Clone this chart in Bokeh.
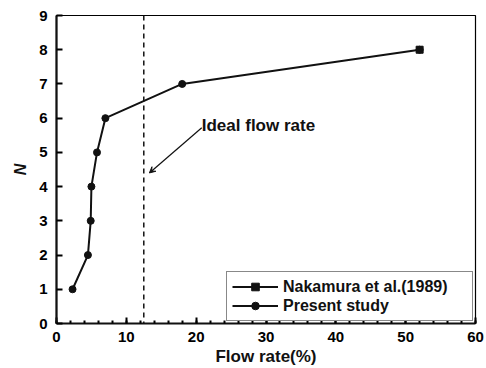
from bokeh.plotting import figure
from bokeh.models import Range1d, Span, Label, Arrow, VeeHead, FixedTicker, Legend, LegendItem
from bokeh.embed import file_html
from bokeh.resources import INLINE

# data
present_x = [2.3, 4.5, 4.9, 5.0, 5.8, 7.0, 18.0, 52.0]
present_y = [1, 2, 3, 4, 5, 6, 7, 8]
nakamura_x = [52.0]
nakamura_y = [8]
ideal_flow = 12.5
x_ticks = [0, 10, 20, 30, 40, 50, 60]
y_ticks = [0, 1, 2, 3, 4, 5, 6, 7, 8, 9]

FONT = "Liberation Sans"

p = figure(frame_width=419, frame_height=308, output_backend="svg", toolbar_location=None,
           x_range=Range1d(0, 60), y_range=Range1d(0, 9),
           min_border_left=56, min_border_right=10, min_border_top=15, min_border_bottom=42)
p.grid.visible = False
p.background_fill_color = "white"
p.border_fill_color = "white"
p.outline_line_color = "black"
p.outline_line_width = 1.2

p.axis.axis_line_width = 2.2
p.axis.axis_line_color = "#111111"
p.axis.major_tick_in = 6
p.axis.major_tick_out = 0
p.axis.major_tick_line_width = 2
p.axis.major_label_text_font = FONT
p.axis.major_label_text_font_style = "bold"
p.axis.major_label_text_font_size = "15px"
p.axis.major_label_text_color = "#000000"
p.axis.axis_label_text_font = FONT
p.axis.axis_label_text_color = "#111111"

p.xaxis.ticker = FixedTicker(ticks=x_ticks, minor_ticks=list(range(0, 61, 2)))
p.xaxis.minor_tick_in = 3
p.xaxis.minor_tick_out = 0
p.xaxis.minor_tick_line_width = 2
p.xaxis.major_label_standoff = 8
p.xaxis.axis_label = "Flow rate(%)"
p.xaxis.axis_label_text_font_style = "bold"
p.xaxis.axis_label_text_font_size = "17px"
p.xaxis.axis_label_standoff = 2

p.yaxis.ticker = FixedTicker(ticks=y_ticks, minor_ticks=[])
p.yaxis.minor_tick_line_color = None
p.yaxis.major_label_standoff = 9
p.yaxis.axis_label = "N"
p.yaxis.axis_label_text_font_style = "bold italic"
p.yaxis.axis_label_text_font_size = "16px"
p.yaxis.axis_label_standoff = 7

vline = Span(location=ideal_flow, dimension="height", line_color="#111111",
             line_width=1.5, line_dash="5 4")
p.add_layout(vline)

r_line = p.line(present_x, present_y, line_color="#111111", line_width=2)
r_circ = p.scatter(present_x, present_y, marker="circle", size=7,
                   fill_color="#111111", line_color="#111111")
r_sq = p.scatter(nakamura_x, nakamura_y, marker="square", size=7,
                 fill_color="#111111", line_color="#111111")

p.add_layout(Arrow(end=VeeHead(size=6, line_color="#111111", fill_color="#111111", line_width=1),
                   x_start=20.8, y_start=5.72, x_end=13.3, y_end=4.4,
                   line_color="#111111", line_width=1.2))
p.add_layout(Label(x=20.8, y=5.78, text="Ideal flow rate", text_font=FONT,
                   text_font_style="bold", text_font_size="17px", text_color="#111111",
                   text_baseline="middle"))

legend = Legend(items=[LegendItem(label="Nakamura et al.(1989)", renderers=[r_line, r_sq]),
                       LegendItem(label="Present study", renderers=[r_line, r_circ])],
                location="bottom_right", margin=2, padding=5, spacing=0,
                glyph_width=46, label_height=19, glyph_height=19, label_width=184,
                label_text_font=FONT, label_text_font_style="bold",
                label_text_font_size="16px", label_text_color="#111111",
                border_line_color="#111111", border_line_width=1.5,
                background_fill_alpha=1)
p.add_layout(legend)

open("out.html", "w").write(file_html(p, INLINE))
